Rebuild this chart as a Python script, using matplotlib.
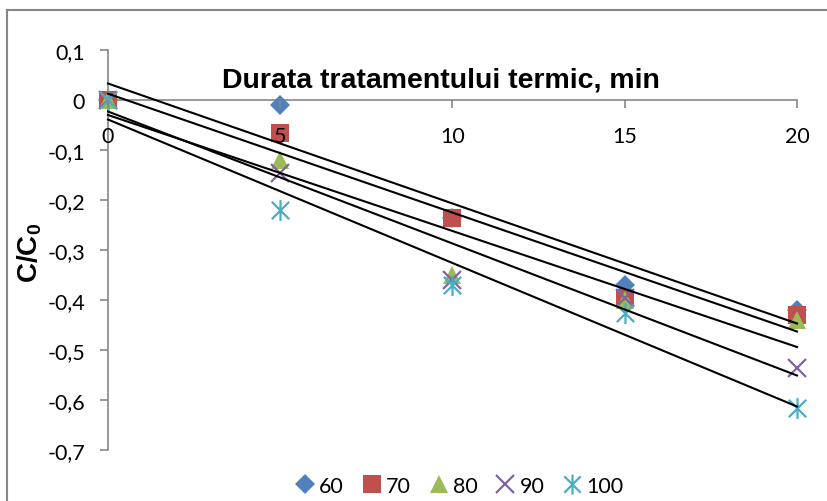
import numpy as np
import matplotlib
matplotlib.use("Agg")
import matplotlib.pyplot as plt
from matplotlib.path import Path
from matplotlib.lines import Line2D

plt.rcParams["font.family"] = ["Lato", "DejaVu Sans"]
plt.rcParams["mathtext.fontset"] = "custom"
plt.rcParams["mathtext.bf"] = "Liberation Sans:bold"
plt.rcParams["mathtext.rm"] = "Liberation Sans"

# Heat treatment duration (min)
durations = [0, 5, 10, 15, 20]
series_labels = ["60", "70", "80", "90", "100"]
values_60 = [0.0, -0.01, -0.235, -0.37, -0.42]
values_70 = [0.0, -0.066, -0.235, -0.395, -0.43]
values_80 = [0.0, -0.12, -0.35, -0.40, -0.44]
values_90 = [0.0, -0.145, -0.36, -0.395, -0.535]
values_100 = [0.0, -0.22, -0.37, -0.425, -0.615]
y_ticks = [0.1, 0.0, -0.1, -0.2, -0.3, -0.4, -0.5, -0.6, -0.7]
x_ticks = [0, 5, 10, 15, 20]

all_series = [values_60, values_70, values_80, values_90, values_100]

# Excel-like star marker: an X with a vertical stroke
star = Path(
    [(-1, -1), (1, 1), (-1, 1), (1, -1), (0, -1.2), (0, 1.2)],
    [Path.MOVETO, Path.LINETO, Path.MOVETO, Path.LINETO, Path.MOVETO, Path.LINETO],
)

styles = [
    dict(marker="D", color="#4F81BD", ms=10.5, mew=0),
    dict(marker="s", color="#C0504D", ms=13.5, mew=0),
    dict(marker="^", color="#9BBB59", ms=13.5, mew=0),
    dict(marker="x", color="#8064A2", ms=13, mew=1.6),
    dict(marker=star, color="#4BACC6", ms=15, mew=1.6),
]

fig = plt.figure(figsize=(8.28, 5.02), dpi=100)
ax = fig.add_axes([108 / 828, 1 - 451 / 502, (797 - 108) / 828, 400 / 502])

x = np.array(durations, dtype=float)
for vals, st, lab in zip(all_series, styles, series_labels):
    y = np.array(vals)
    ax.plot(x, y, linestyle="none", marker=st["marker"], color=st["color"],
            markersize=st["ms"], markeredgewidth=st["mew"],
            markeredgecolor=st["color"], label=lab, clip_on=False, zorder=3)

# Linear trend lines
for vals in all_series:
    k, b = np.polyfit(x, np.array(vals), 1)
    xs = np.array([0, 20])
    ax.plot(xs, k * xs + b, color="black", lw=1.5, zorder=4, clip_on=False)

ax.set_xlim(0, 20)
ax.set_ylim(-0.7, 0.1)

gray = "#868686"
for side in ["top", "right"]:
    ax.spines[side].set_visible(False)
ax.spines["bottom"].set_position(("data", 0))
ax.spines["bottom"].set_color(gray)
ax.spines["left"].set_color(gray)
ax.spines["bottom"].set_linewidth(1.2)
ax.spines["left"].set_linewidth(1.2)

ax.set_xticks(x_ticks)
ax.set_xticklabels([str(t) for t in x_ticks])
ax.set_yticks(y_ticks)
ax.set_yticklabels([("0" if abs(t) < 1e-9 else f"{t:.1f}".replace(".", ",")) for t in y_ticks])
ax.tick_params(axis="both", colors=gray, labelcolor="black", labelsize=15.5,
               length=5.5, width=1.2, direction="out")
ax.tick_params(axis="x", pad=13)
ax.tick_params(axis="y", pad=11)
ax.xaxis.set_zorder(5)

fig.text(441 / 828, 1 - 88 / 502, "Durata tratamentului termic, min",
         ha="center", va="baseline", fontsize=20.5, fontweight="bold",
         family="Liberation Sans")
fig.text(30 / 828, 1 - 253 / 502, r"$\mathbf{C/C_0}$", rotation=90,
         ha="center", va="center", fontsize=20)

handles = [Line2D([], [], linestyle="none", marker=st["marker"], color=st["color"],
                  markersize=st["ms"] * 0.95, markeredgewidth=st["mew"],
                  markeredgecolor=st["color"]) for st in styles]
fig.legend(handles, series_labels, loc="center", bbox_to_anchor=(460 / 828, 1 - 487 / 502),
           ncol=5, frameon=False, fontsize=15.5, handlelength=0.8, handletextpad=0.25,
           columnspacing=0.9, borderaxespad=0, borderpad=0)

# Chart-area border (left and top edges)
fig.add_artist(Line2D([7 / 828, 7 / 828], [0, 1 - 11 / 502], color=gray, lw=1.5,
                      transform=fig.transFigure))
fig.add_artist(Line2D([7 / 828, 1], [1 - 11 / 502, 1 - 11 / 502], color=gray, lw=1.5,
                      transform=fig.transFigure))

fig.savefig("out.png", dpi=100)
